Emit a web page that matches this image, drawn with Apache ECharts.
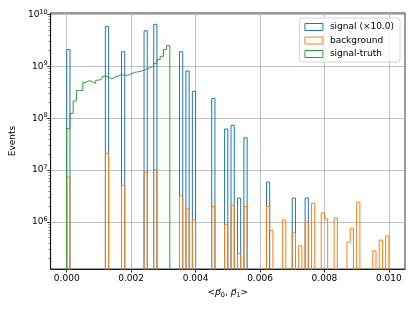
<!DOCTYPE html>
<html><head><meta charset="utf-8">
<script src="https://cdn.jsdelivr.net/npm/echarts@6/dist/echarts.min.js"></script>
<style>html,body{margin:0;padding:0;background:#fff}#c{width:415px;height:311px}</style>
</head><body><div id="c"></div>
<script>
// ---- histogram binning ----
const binStart = 0.0;
const binWidth = 0.0001;
const binCount = 100;
const signalScale = 10.0;

// ---- signal (raw counts; drawn ×10) ----
const signalBins   = [0, 12, 17, 24, 27, 35, 37, 39, 45, 49, 51, 53, 55, 62, 70, 74];
const signalCounts = [2.1e8, 5.8e8, 1.9e8, 4.8e8, 6.4e8, 1.9e8, 8.1e7, 3.3e7, 2.4e7, 6.2e6, 7.3e6, 2.9e5, 4.2e6, 5.9e5, 2.9e5, 2.9e5];

// ---- background ----
const backgroundBins   = [0, 12, 17, 24, 27, 35, 37, 39, 45, 49, 51, 53, 55, 62, 63, 67, 70, 72, 74, 76, 79, 80, 83, 87, 88, 90, 95, 97, 99];
const backgroundCounts = [7.4e6, 2.1e7, 5.1e6, 9.1e6, 1.02e7, 3.2e6, 1.8e6, 1.1e6, 2.0e6, 8.9e5, 2.1e6, 2.5e5, 2.0e6, 2.0e6, 6.9e5, 1.1e6, 6.2e5, 3.5e5, 1.0e6, 2.3e6, 1.5e6, 1.15e6, 1.2e6, 4.1e5, 7.6e5, 2.4e6, 2.8e5, 4.5e5, 5.4e5];

// ---- signal-truth ----
const truthBins   = [0,1,2,3,4,5,6,7,8,9,10,11,12,13,14,15,16,17,18,19,20,21,22,23,24,25,26,27,28,29,30,31];
const truthCounts = [6.3e7, 1.23e8, 2.15e8, 3.4e8, 3.4e8, 4.9e8, 5.3e8, 5.0e8, 4.7e8, 5.4e8, 5.8e8, 6.4e8, 6.2e8, 5.7e8, 6.2e8, 6.5e8,
                     6.9e8, 6.7e8, 6.7e8, 7.2e8, 7.6e8, 7.8e8, 8.0e8, 8.4e8, 9.0e8, 9.4e8, 1.0e9, 1.13e9, 1.34e9, 1.55e9, 2.1e9, 2.5e9];

// ---- ticks ----
const xTickValues = [0, 0.002, 0.004, 0.006, 0.008, 0.010];
const xTickLabels = ['0.000', '0.002', '0.004', '0.006', '0.008', '0.010'];
const yTickValues = [1e6, 1e7, 1e8, 1e9, 1e10];
const yMinorDecades = [1e5, 1e6, 1e7, 1e8, 1e9];
const yMinorMultipliers = [2, 3, 4, 5, 6, 7, 8, 9];

const names = ['signal (×' + signalScale.toFixed(1) + ')', 'background', 'signal-truth'];
const colors = ['#1f77b4', '#ff7f0e', '#2ca02c'];

const X_MIN = -0.0005, X_MAX = 0.0105;
const Y_MIN = 1.25e5, Y_MAX = 1.06e10;
const FLOOR = 1; // empty bins drop below the axis (clipped)

function stepData(bins, counts, scale) {
  const full = new Array(binCount).fill(0);
  bins.forEach((b, i) => { full[b] = counts[i] * scale; });
  const pts = [[binStart, FLOOR]];
  for (let i = 0; i < binCount; i++) pts.push([binStart + i * binWidth, full[i] > 0 ? full[i] : FLOOR]);
  pts.push([binStart + binCount * binWidth, FLOOR]);
  return pts;
}

const minorTicks = [];
yMinorDecades.forEach(d => yMinorMultipliers.forEach(m => { const v = d * m; if (v > Y_MIN && v < Y_MAX) minorTicks.push(v); }));

const FONT = 'DejaVu Sans';
const chart = echarts.init(document.getElementById('c'), null, {renderer: 'canvas'});

function mkSeries(name, data, color) {
  return {
    name: name, type: 'line', step: 'end', data: data,
    showSymbol: false, symbol: 'none', clip: true,
    lineStyle: {color: color, width: 1},
    itemStyle: {color: color},
    emphasis: {disabled: true}
  };
}

chart.setOption({
  animation: false,
  backgroundColor: '#fff',
  grid: {left: 49, right: 10, top: 13, bottom: 42, show: true, borderColor: '#000', borderWidth: 0.8, backgroundColor: 'transparent'},
  legend: {
    orient: 'vertical', right: 15, top: 18, icon: 'rect', itemWidth: 18, itemHeight: 7, itemGap: 3.5,
    padding: [4, 6, 3, 5], borderColor: '#cccccc', borderWidth: 0.8, borderRadius: 3,
    backgroundColor: 'rgba(255,255,255,0.8)',
    textStyle: {fontFamily: FONT, fontSize: 9, color: '#000', lineHeight: 10, padding: [0, 0, 0, 2]},
    data: names.map((n, i) => ({name: n, itemStyle: {color: 'rgba(255,255,255,0)', borderColor: colors[i], borderWidth: 1}}))
  },
  xAxis: {
    type: 'value', min: X_MIN, max: X_MAX,
    axisLine: {onZero: false, lineStyle: {color: '#000', width: 0.8}},
    axisTick: {customValues: xTickValues, length: 3.5, lineStyle: {color: '#000', width: 0.8}},
    axisLabel: {customValues: xTickValues, margin: 5, fontFamily: FONT, fontSize: 9, color: '#000',
      formatter: v => { const i = xTickValues.findIndex(t => Math.abs(t - v) < 1e-9); return i >= 0 ? xTickLabels[i] : ''; }},
    splitLine: {show: true, lineStyle: {color: '#b0b0b0', width: 0.8}},
    name: '{t|<}{i|p\u20D7}{s|0}{t|, }{i|p\u20D7}{s|1}{t|>}', nameLocation: 'middle', nameGap: 18,
    nameTextStyle: {fontFamily: FONT, fontSize: 9, color: '#000', rich: {
      t: {fontFamily: FONT, fontSize: 9, color: '#000', lineHeight: 12},
      i: {fontFamily: FONT, fontSize: 9, fontStyle: 'italic', color: '#000', lineHeight: 12},
      s: {fontFamily: FONT, fontSize: 6.5, color: '#000', lineHeight: 12, verticalAlign: 'bottom', padding: [3, 0, 0, 0]}
    }}
  },
  yAxis: [{
    type: 'log', logBase: 10, min: Y_MIN, max: Y_MAX, position: 'left',
    axisLine: {show: true, onZero: false, lineStyle: {color: '#000', width: 0.8}},
    axisTick: {show: true, customValues: yTickValues, length: 3.5, lineStyle: {color: '#000', width: 0.8}},
    axisLabel: {customValues: yTickValues, margin: 3, formatter: v => '{b|10}{s|' + Math.round(Math.log10(v)) + '}',
      rich: {
        b: {fontFamily: FONT, fontSize: 9, color: '#000', lineHeight: 12},
        s: {fontFamily: FONT, fontSize: 6.5, color: '#000', lineHeight: 7, verticalAlign: 'top'}
      }},
    splitLine: {show: true, lineStyle: {color: '#b0b0b0', width: 0.8}},
    name: 'Events', nameLocation: 'middle', nameGap: 31,
    nameTextStyle: {fontFamily: FONT, fontSize: 9, color: '#000'}
  }, {
    type: 'log', logBase: 10, min: Y_MIN, max: Y_MAX, position: 'left', gridIndex: 0,
    axisLine: {show: false, onZero: false},
    axisTick: {show: true, customValues: minorTicks, length: 2, lineStyle: {color: '#000', width: 0.6}},
    axisLabel: {show: false},
    splitLine: {show: false}
  }],
  series: [
    mkSeries(names[0], stepData(signalBins, signalCounts, signalScale), colors[0]),
    mkSeries(names[1], stepData(backgroundBins, backgroundCounts, 1), colors[1]),
    mkSeries(names[2], stepData(truthBins, truthCounts, 1), colors[2])
  ]
});
</script>
</body></html>
